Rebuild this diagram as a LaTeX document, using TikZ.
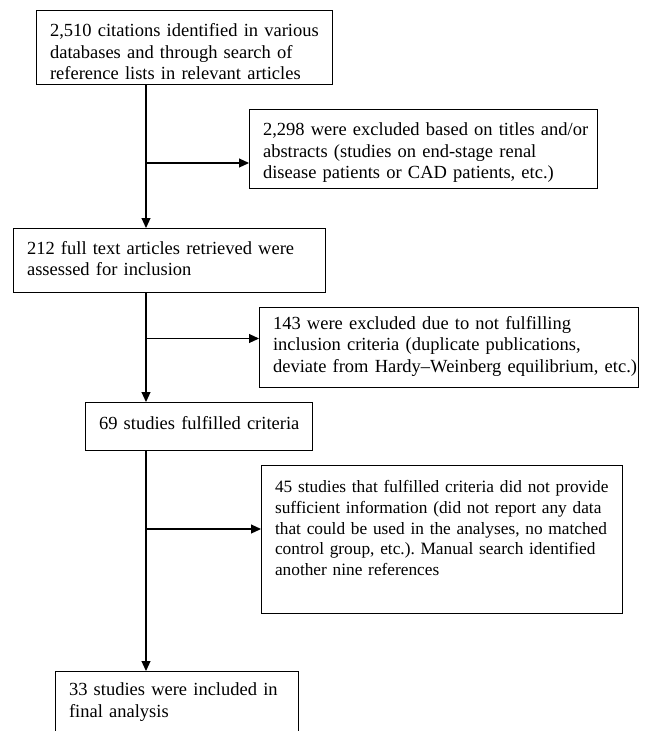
\documentclass[tikz,border=0pt]{standalone}
\usepackage{fontspec}
\setmainfont{Liberation Serif}
\usetikzlibrary{arrows.meta,positioning}
\frenchspacing

\tikzset{
  headroom/.store in=\headroom, headroom=26pt,
  footroom/.store in=\footroom, footroom=5pt,
  box/.style={draw, line width=1.1pt, anchor=north west, inner xsep=0pt, inner ysep=0pt,
    align=left, font=\fontsize{18.5}{21.5}\selectfont,
    execute at begin node={\leftskip=13.5pt\rule{0pt}{\headroom}},
    execute at end node={\rule[-\footroom]{0pt}{0pt}}},
  flow/.style={line width=1.1pt, -{Triangle[length=10pt,width=9pt]}},
}

\begin{document}
\begin{tikzpicture}[x=1pt,y=-1pt]
  \useasboundingbox (0,0) rectangle (649,731);

  % boxes of the main column
  \node[box, text width=296pt, headroom=26pt, footroom=4.7pt] (search) at (36,10)
    {2,510 citations identified in various\\databases and through search of\\reference lists in relevant articles};
  \node[box, text width=312pt, headroom=25.5pt, footroom=16.5pt] (fulltext) at (13,228)
    {212 full text articles retrieved were\\assessed for inclusion};
  \node[box, text width=227pt, headroom=26.5pt, footroom=21.5pt] (fulfilled) at (85,402)
    {69 studies fulfilled criteria};
  \node[box, text width=243pt, headroom=24pt, footroom=20pt] (final) at (55,671)
    {33 studies were included in\\final analysis};

  % exclusion boxes
  \node[box, text width=348pt, headroom=26pt, footroom=10pt] (titles) at (249,109)
    {2,298 were excluded based on titles and/or\\abstracts (studies on end-stage renal\\disease patients or CAD patients, etc.)};
  \node[box, text width=379pt, headroom=21.5pt, footroom=15pt] (criteria) at (259,307)
    {143 were excluded due to not fulfilling\\inclusion criteria (duplicate publications,\\deviate from Hardy–Weinberg equilibrium, etc.)};
  \node[box, text width=361pt, headroom=27pt, footroom=38pt,
        font=\fontsize{17.3}{20.75}\selectfont] (insufficient) at (261,465)
    {45 studies that fulfilled criteria did not provide\\sufficient information (did not report any data\\that could be used in the analyses, no matched\\control group, etc.). Manual search identified\\another nine references};

  \coordinate (trunk) at (146,0);
  \coordinate (j1) at (146,163);
  \coordinate (j2) at (146,338.5);
  \coordinate (j3) at (146,529);

  \foreach \a/\b in {search/fulltext,fulltext/fulfilled,fulfilled/final}
    \draw[flow] (trunk |- \a.south) -- (trunk |- \b.north);
  \foreach \j/\b in {j1/titles,j2/criteria,j3/insufficient}
    \draw[flow] (\j) -- (\j -| \b.west);
\end{tikzpicture}
\end{document}
